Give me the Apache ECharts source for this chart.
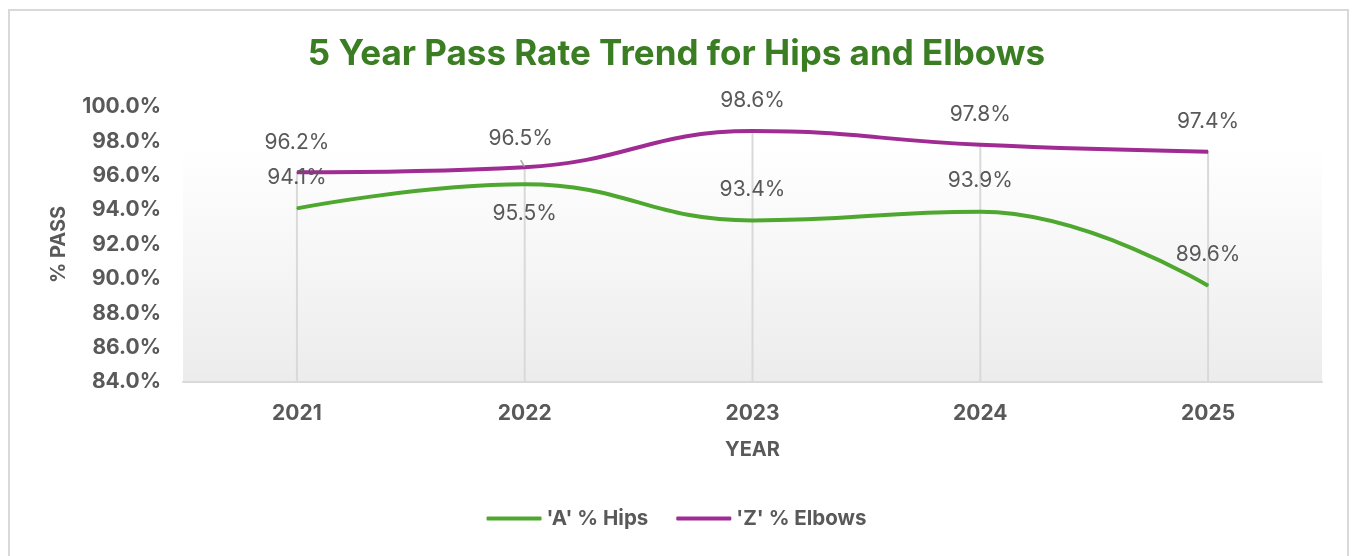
<!DOCTYPE html>
<html>
<head>
<meta charset="utf-8">
<script src="https://cdn.jsdelivr.net/npm/echarts@6/dist/echarts.min.js"></script>
<style>
  html, body { margin: 0; padding: 0; background: #fff; }
  #frame { position: absolute; left: 8px; top: 9px; width: 1341px; height: 560px; border: 2px solid #d9d9d9; box-sizing: border-box; }
  #chart { position: absolute; left: 0; top: 0; width: 1353px; height: 556px; }
</style>
</head>
<body>
<div id="frame"></div>
<div id="chart"></div>
<script>
const years = ['2021', '2022', '2023', '2024', '2025'];
const hips = [94.1, 95.5, 93.4, 93.9, 89.6];
const elbows = [96.2, 96.5, 98.6, 97.8, 97.4];
// labels under the point instead of above
const hipsBelow = [false, true, false, false, false];
// label pulled away with a leader line
const elbowsLeader = [false, true, false, false, false];

const font = 'Inter, "Open Sans", sans-serif';
const grey = '#595959';

const myChart = echarts.init(document.getElementById('chart'));
myChart.setOption({
  animation: false,
  title: {
    text: '5 Year Pass Rate Trend for Hips and Elbows',
    left: 'center',
    top: 32,
    textStyle: {color: '#3a7d22', fontSize: 35, fontWeight: 'bold', fontFamily: font}
  },
  legend: {
    bottom: 22,
    left: 'center',
    itemWidth: 55,
    itemHeight: 4,
    itemGap: 28,
    icon: 'roundRect',
    textStyle: {color: grey, fontSize: 20.5, fontWeight: 'bold', fontFamily: font},
    data: ["'A' % Hips", "'Z' % Elbows"]
  },
  grid: {
    left: 183,
    right: 31,
    top: 107,
    bottom: 174,
    show: true,
    borderWidth: 0,
    backgroundColor: new echarts.graphic.LinearGradient(0, 0, 0, 1, [
      {offset: 0, color: '#ffffff'},
      {offset: 0.15, color: '#ffffff'},
      {offset: 1, color: '#ececec'}
    ])
  },
  xAxis: {
    type: 'category',
    data: years,
    name: 'YEAR',
    nameLocation: 'middle',
    nameGap: 58,
    nameTextStyle: {color: grey, fontSize: 20, fontWeight: 'bold', fontFamily: font},
    axisLine: {lineStyle: {color: '#d9d9d9', width: 2}},
    axisTick: {show: false},
    axisLabel: {color: grey, fontSize: 21, fontWeight: 'bold', fontFamily: font, margin: 21}
  },
  yAxis: {
    type: 'value',
    min: 84,
    max: 100,
    interval: 2,
    name: '% PASS',
    nameLocation: 'middle',
    nameGap: 114,
    nameTextStyle: {color: grey, fontSize: 20, fontWeight: 'bold', fontFamily: font},
    axisLine: {show: false},
    axisTick: {show: false},
    splitLine: {show: false},
    axisLabel: {
      color: grey, fontSize: 21, fontWeight: 'bold', fontFamily: font, margin: 22,
      formatter: v => v.toFixed(1) + '%'
    }
  },
  series: [
    {
      // drop lines from the top point to the axis
      type: 'bar',
      data: elbows,
      barWidth: 2,
      itemStyle: {color: '#d9d9d9'},
      silent: true,
      legendHoverLink: false,
      z: 1
    },
    {
      name: "'A' % Hips",
      type: 'line',
      data: hips.map((v, i) => ({
        value: v,
        label: {position: hipsBelow[i] ? 'bottom' : 'top', distance: hipsBelow[i] ? 18 : 20}
      })),
      smooth: 0.45,
      symbol: 'circle',
      symbolSize: 1,
      lineStyle: {color: '#4ea72e', width: 4},
      itemStyle: {color: '#4ea72e'},
      label: {show: true, color: grey, fontSize: 21, fontFamily: font, formatter: p => p.value.toFixed(1) + '%'},
      z: 3
    },
    {
      name: "'Z' % Elbows",
      type: 'line',
      data: elbows.map((v, i) => elbowsLeader[i] ? {
        value: v,
        label: {distance: 17, offset: [-4, 0]},
        labelLine: {show: true, lineStyle: {color: '#a6a6a6', width: 1.5}}
      } : v),
      smooth: 0.45,
      symbol: 'circle',
      symbolSize: 1,
      lineStyle: {color: '#a02b93', width: 4},
      itemStyle: {color: '#a02b93'},
      label: {show: true, position: 'top', distance: 19, color: grey, fontSize: 21, fontFamily: font, formatter: p => p.value.toFixed(1) + '%'},
      z: 3
    }
  ]
});
</script>
</body>
</html>
